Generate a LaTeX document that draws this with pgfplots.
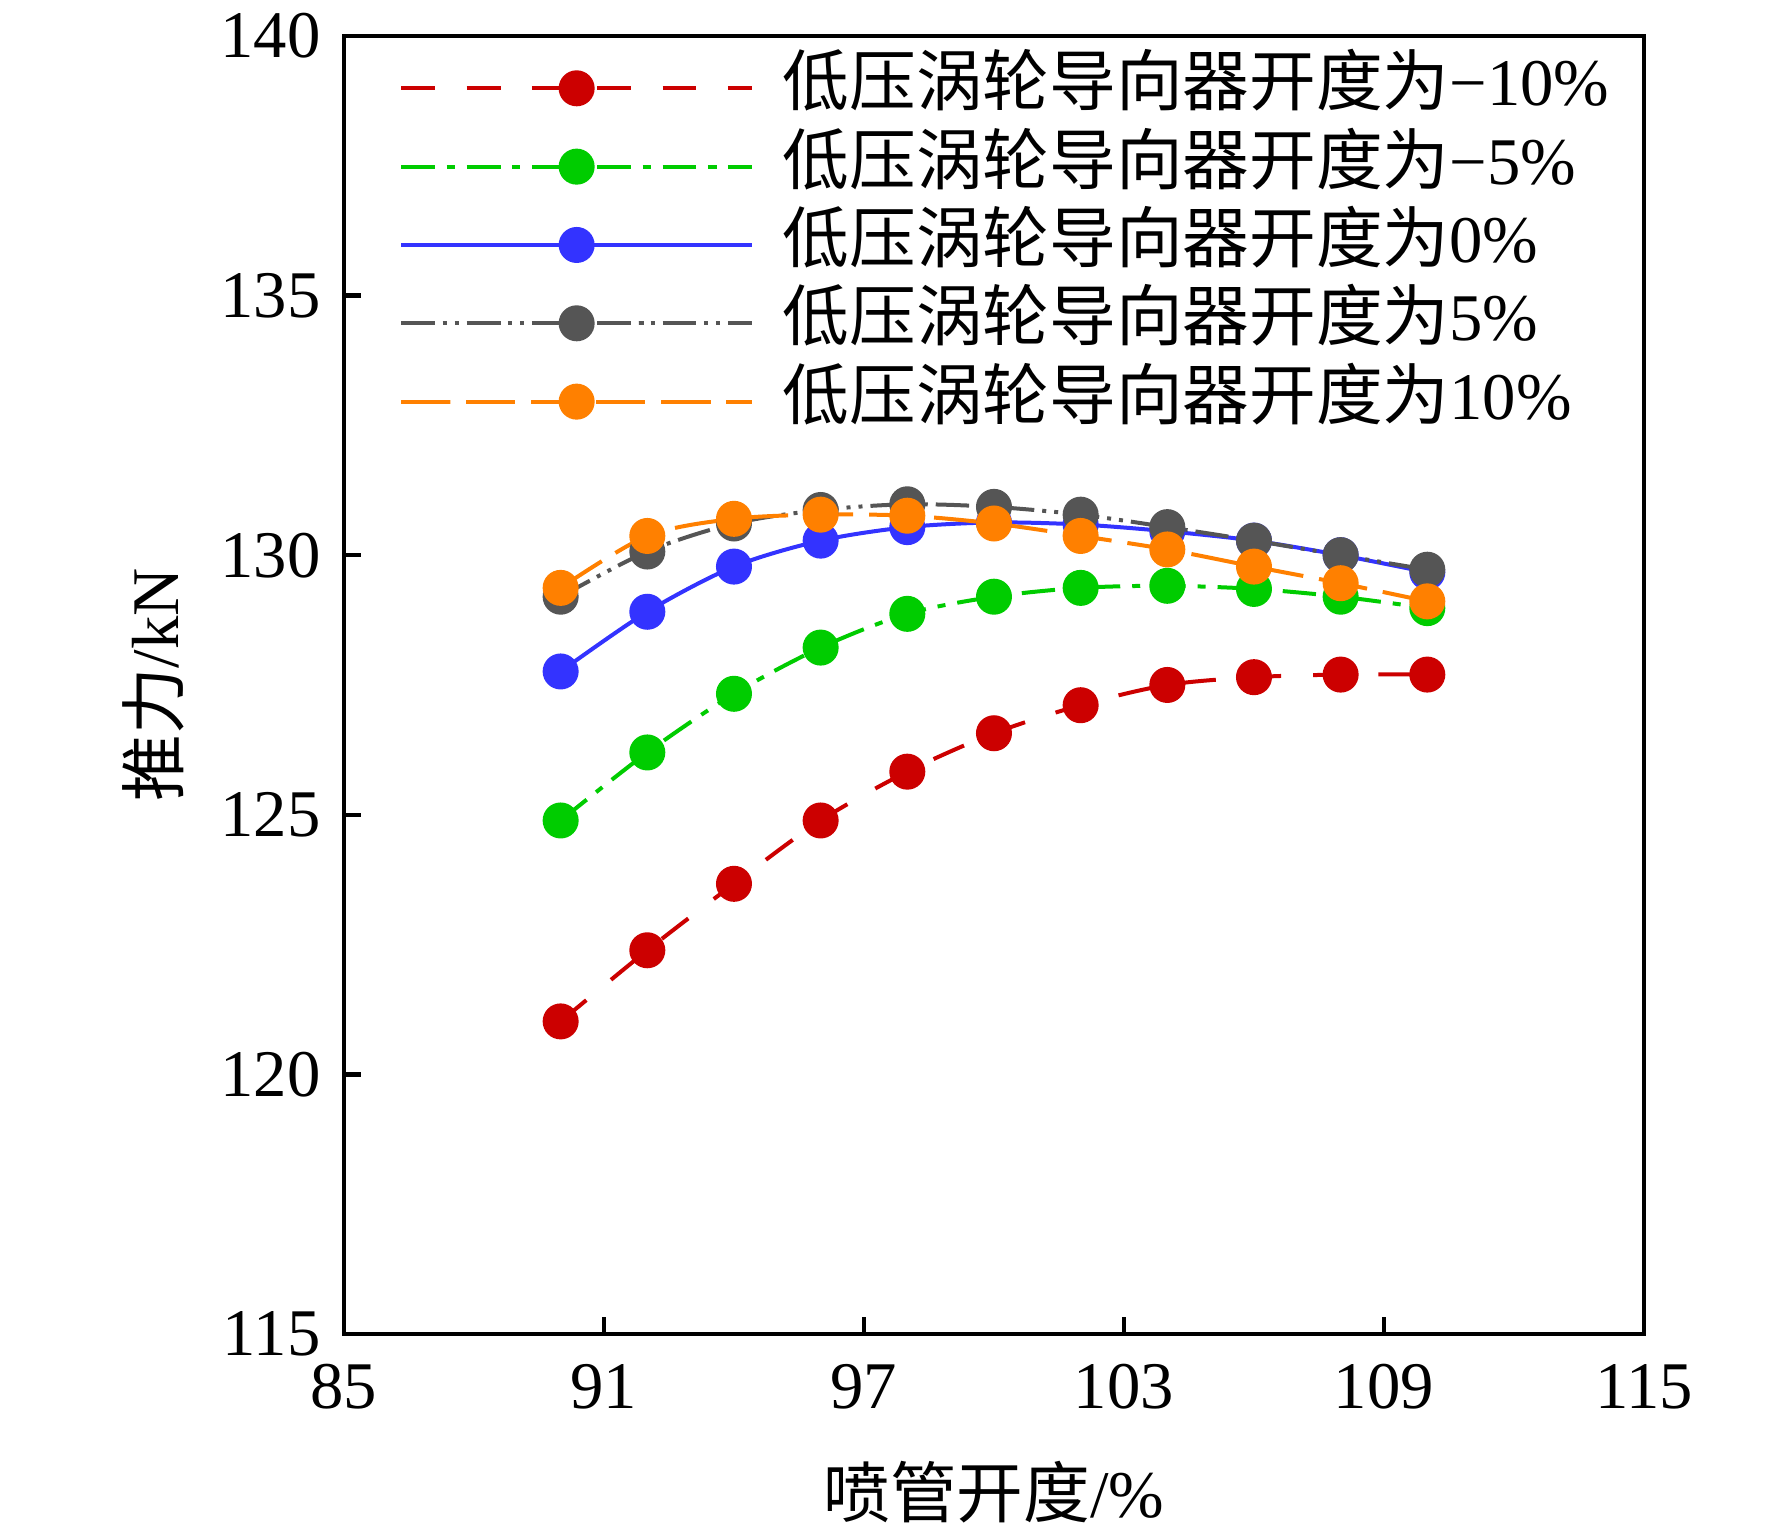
\documentclass[border=0pt]{standalone}
\usepackage{pgfplots}
\pgfplotsset{compat=1.18}
\usepackage{fontspec}
\setmainfont{Liberation Serif}
\newfontfamily\cjk{Noto Sans CJK SC}
\definecolor{cred}{RGB}{204,0,0}
\definecolor{cgreen}{RGB}{0,204,0}
\definecolor{cblue}{RGB}{51,51,255}
\definecolor{cgray}{RGB}{85,85,85}
\definecolor{corange}{RGB}{255,128,0}
\pgfplotstableread{
x red green blue gray orange
90  121.02 124.89 127.76 129.20 129.37
92  122.39 126.20 128.91 130.07 130.37
94  123.67 127.33 129.78 130.61 130.70
96  124.89 128.22 130.28 130.87 130.78
98  125.83 128.87 130.54 130.98 130.76
100 126.57 129.20 130.63 130.93 130.61
102 127.11 129.37 130.59 130.78 130.37
104 127.50 129.41 130.46 130.54 130.11
106 127.65 129.35 130.28 130.28 129.78
108 127.70 129.20 130.00 130.00 129.46
110 127.70 128.98 129.67 129.72 129.11
}\data
\begin{document}
\fontsize{10pt}{12pt}\selectfont
\begin{tikzpicture}
\useasboundingbox (-51.6pt,-29.1pt) rectangle (214.2pt,200.1pt);
\begin{axis}[
  name=ax,
  at={(0,0)}, anchor=south west,
  scale only axis,
  width=195pt, height=194.7pt,
  xmin=85, xmax=115, ymin=115, ymax=140,
  xtick={85,91,97,103,109,115},
  ytick={115,120,125,130,135,140},
  xtick pos=bottom, ytick pos=left,
  tick align=inside,
  major tick length=2.55pt,
  axis line style={line width=0.65pt},
  every tick/.style={black, line width=0.65pt},
  /pgf/number format/assume math mode=true,
  ticklabel style={font=\fontsize{10pt}{12pt}\selectfont},
  xticklabel style={yshift=-1pt},
  xlabel={{\cjk 喷管开度}/\%},
  ylabel={{\cjk 推力}/kN},
  xlabel style={at={(axis description cs:0.5,0)}, anchor=center, yshift=-23.7pt, font=\fontsize{10pt}{12pt}\selectfont},
  ylabel style={at={(axis description cs:0,0.5)}, anchor=center, rotate=0, yshift=28.65pt, font=\fontsize{10pt}{12pt}\selectfont},
  every axis plot/.append style={line width=0.6pt, mark=*, mark size=2.4pt, smooth},
  legend cell align=left,
  legend image code/.code={\draw[mark repeat=2,mark phase=2,#1] plot coordinates {(0pt,0pt) (26.3pt,0pt) (52.65pt,0pt)};},
  legend style={at={(axis description cs:0,1)}, anchor=north west, xshift=8.3pt, yshift=-3pt,
    draw=none, fill=none, inner sep=0pt, outer sep=0pt, row sep=2.05pt, column sep=4.3pt,
    font=\fontsize{10pt}{12pt}\selectfont,
    nodes={inner sep=0pt, text height=7.5pt, text depth=2.2pt}},
]
\addplot[color=cred, dash pattern=on 5pt off 4.8pt, mark options={solid, fill=cred, draw=cred}] table[x=x,y=red] {\data};
\addlegendentry{{\cjk 低压涡轮导向器开度为}−10\%}
\addplot[color=cgreen, dash pattern=on 5pt off 1.8pt on 1.2pt off 1.8pt, mark options={solid, fill=cgreen, draw=cgreen}] table[x=x,y=green] {\data};
\addlegendentry{{\cjk 低压涡轮导向器开度为}−5\%}
\addplot[color=cblue, solid, mark options={solid, fill=cblue, draw=cblue}] table[x=x,y=blue] {\data};
\addlegendentry{{\cjk 低压涡轮导向器开度为}0\%}
\addplot[color=cgray, dash pattern=on 5pt off 1.2pt on 0.6pt off 1.2pt on 0.6pt off 1.2pt, mark options={solid, fill=cgray, draw=cgray}] table[x=x,y=gray] {\data};
\addlegendentry{{\cjk 低压涡轮导向器开度为}5\%}
\addplot[color=corange, dash pattern=on 7.35pt off 2.4pt, mark options={solid, fill=corange, draw=corange}] table[x=x,y=orange] {\data};
\addlegendentry{{\cjk 低压涡轮导向器开度为}10\%}
\end{axis}
\end{tikzpicture}
\end{document}
